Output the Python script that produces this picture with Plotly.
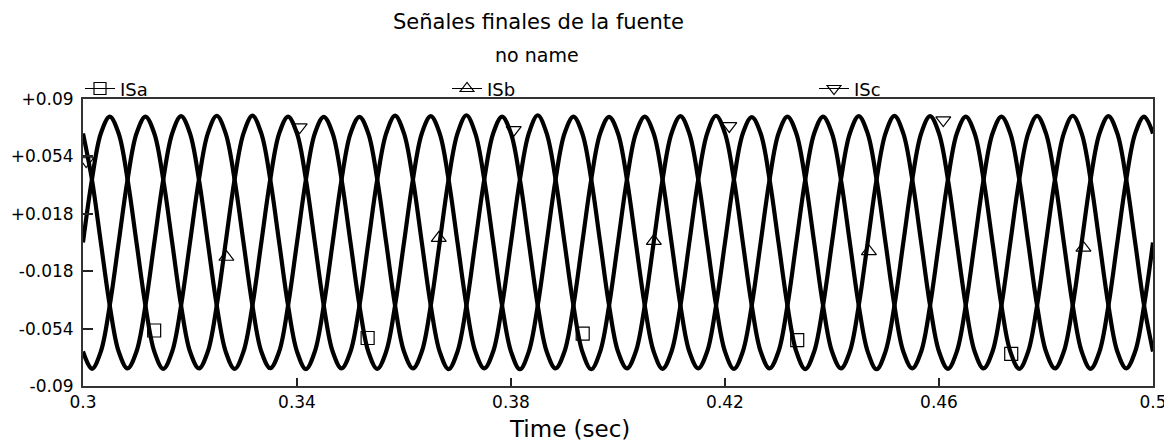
import plotly.graph_objects as go

# ---------------- data ----------------
time_s = [
    0.300, 0.30167, 0.30333, 0.305, 0.30667, 0.30833, 0.310, 0.31167, 0.31333, 0.315, 0.31667, 0.31833,
    0.320, 0.32167, 0.32333, 0.325, 0.32667, 0.32833, 0.330, 0.33167, 0.33333, 0.335, 0.33667, 0.33833,
    0.340, 0.34167, 0.34333, 0.345, 0.34667, 0.34833, 0.350, 0.35167, 0.35333, 0.355, 0.35667, 0.35833,
    0.360, 0.36167, 0.36333, 0.365, 0.36667, 0.36833, 0.370, 0.37167, 0.37333, 0.375, 0.37667, 0.37833,
    0.380, 0.38167, 0.38333, 0.385, 0.38667, 0.38833, 0.390, 0.39167, 0.39333, 0.395, 0.39667, 0.39833,
    0.400, 0.40167, 0.40333, 0.405, 0.40667, 0.40833, 0.410, 0.41167, 0.41333, 0.415, 0.41667, 0.41833,
    0.420, 0.42167, 0.42333, 0.425, 0.42667, 0.42833, 0.430, 0.43167, 0.43333, 0.435, 0.43667, 0.43833,
    0.440, 0.44167, 0.44333, 0.445, 0.44667, 0.44833, 0.450, 0.45167, 0.45333, 0.455, 0.45667, 0.45833,
    0.460, 0.46167, 0.46333, 0.465, 0.46667, 0.46833, 0.470, 0.47167, 0.47333, 0.475, 0.47667, 0.47833,
    0.480, 0.48167, 0.48333, 0.485, 0.48667, 0.48833, 0.490, 0.49167, 0.49333, 0.495, 0.49667, 0.49833,
    0.500,
]

isa = [
    0.0, 0.0395, 0.0684, 0.0790, 0.0684, 0.0395, 0.0, -0.0395, -0.0684, -0.0792, -0.0684, -0.0395,
    0.0, 0.0395, 0.0684, 0.0795, 0.0684, 0.0395, 0.0, -0.0395, -0.0684, -0.0788, -0.0684, -0.0395,
    0.0, 0.0395, 0.0684, 0.0788, 0.0684, 0.0395, 0.0, -0.0395, -0.0684, -0.0793, -0.0684, -0.0395,
    0.0, 0.0395, 0.0684, 0.0792, 0.0684, 0.0395, 0.0, -0.0395, -0.0684, -0.0790, -0.0684, -0.0395,
    0.0, 0.0395, 0.0684, 0.0798, 0.0684, 0.0395, 0.0, -0.0395, -0.0684, -0.0795, -0.0684, -0.0395,
    0.0, 0.0395, 0.0684, 0.0790, 0.0684, 0.0395, 0.0, -0.0395, -0.0684, -0.0790, -0.0684, -0.0395,
    0.0, 0.0395, 0.0684, 0.0786, 0.0684, 0.0395, 0.0, -0.0395, -0.0684, -0.0794, -0.0684, -0.0395,
    0.0, 0.0395, 0.0684, 0.0793, 0.0684, 0.0395, 0.0, -0.0395, -0.0684, -0.0790, -0.0684, -0.0395,
    0.0, 0.0395, 0.0684, 0.0790, 0.0684, 0.0395, 0.0, -0.0395, -0.0684, -0.0792, -0.0684, -0.0395,
    0.0, 0.0395, 0.0684, 0.0795, 0.0684, 0.0395, 0.0, -0.0395, -0.0684, -0.0790, -0.0684, -0.0395,
    0.0,
]

isb = [
    -0.0684, -0.0792, -0.0684, -0.0395, 0.0, 0.0395, 0.0684, 0.0790, 0.0684, 0.0395, 0.0, -0.0395,
    -0.0684, -0.0790, -0.0684, -0.0395, 0.0, 0.0395, 0.0684, 0.0796, 0.0684, 0.0395, 0.0, -0.0395,
    -0.0684, -0.0794, -0.0684, -0.0395, 0.0, 0.0395, 0.0684, 0.0788, 0.0684, 0.0395, 0.0, -0.0395,
    -0.0684, -0.0790, -0.0684, -0.0395, 0.0, 0.0395, 0.0684, 0.0798, 0.0684, 0.0395, 0.0, -0.0395,
    -0.0684, -0.0795, -0.0684, -0.0395, 0.0, 0.0395, 0.0684, 0.0790, 0.0684, 0.0395, 0.0, -0.0395,
    -0.0684, -0.0790, -0.0684, -0.0395, 0.0, 0.0395, 0.0684, 0.0792, 0.0684, 0.0395, 0.0, -0.0395,
    -0.0684, -0.0793, -0.0684, -0.0395, 0.0, 0.0395, 0.0684, 0.0790, 0.0684, 0.0395, 0.0, -0.0395,
    -0.0684, -0.0790, -0.0684, -0.0395, 0.0, 0.0395, 0.0684, 0.0794, 0.0684, 0.0395, 0.0, -0.0395,
    -0.0684, -0.0792, -0.0684, -0.0395, 0.0, 0.0395, 0.0684, 0.0790, 0.0684, 0.0395, 0.0, -0.0395,
    -0.0684, -0.0790, -0.0684, -0.0395, 0.0, 0.0395, 0.0684, 0.0793, 0.0684, 0.0395, 0.0, -0.0395,
    -0.0684,
]

isc = [
    0.0684, 0.0395, 0.0, -0.0395, -0.0684, -0.0790, -0.0684, -0.0395, 0.0, 0.0395, 0.0684, 0.0792,
    0.0684, 0.0395, 0.0, -0.0395, -0.0684, -0.0793, -0.0684, -0.0395, 0.0, 0.0395, 0.0684, 0.0790,
    0.0684, 0.0395, 0.0, -0.0395, -0.0684, -0.0790, -0.0684, -0.0395, 0.0, 0.0395, 0.0684, 0.0796,
    0.0684, 0.0395, 0.0, -0.0395, -0.0684, -0.0794, -0.0684, -0.0395, 0.0, 0.0395, 0.0684, 0.0790,
    0.0684, 0.0395, 0.0, -0.0395, -0.0684, -0.0790, -0.0684, -0.0395, 0.0, 0.0395, 0.0684, 0.0788,
    0.0684, 0.0395, 0.0, -0.0395, -0.0684, -0.0792, -0.0684, -0.0395, 0.0, 0.0395, 0.0684, 0.0795,
    0.0684, 0.0395, 0.0, -0.0395, -0.0684, -0.0790, -0.0684, -0.0395, 0.0, 0.0395, 0.0684, 0.0790,
    0.0684, 0.0395, 0.0, -0.0395, -0.0684, -0.0795, -0.0684, -0.0395, 0.0, 0.0395, 0.0684, 0.0792,
    0.0684, 0.0395, 0.0, -0.0395, -0.0684, -0.0790, -0.0684, -0.0395, 0.0, 0.0395, 0.0684, 0.0794,
    0.0684, 0.0395, 0.0, -0.0395, -0.0684, -0.0792, -0.0684, -0.0395, 0.0, 0.0395, 0.0684, 0.0790,
    0.0684,
]

# marker positions drawn along each trace
isa_mark_t = [0.3133, 0.3532, 0.3934, 0.4335, 0.4735]
isa_mark_v = [-0.0552, -0.0599, -0.0571, -0.0612, -0.0699]
isb_mark_t = [0.3268, 0.3665, 0.4067, 0.4469, 0.4870]
isb_mark_v = [-0.0091, 0.0028, 0.0009, -0.0056, -0.0034]
isc_mark_t = [0.3006, 0.3405, 0.3805, 0.4208, 0.4608]
isc_mark_v = [0.0511, 0.0724, 0.0706, 0.0731, 0.0768]

series_names = ["ISa", "ISb", "ISc"]
series_symbols = ["square-open", "triangle-up-open", "triangle-down-open"]

x_tickvals = [0.3, 0.34, 0.38, 0.42, 0.46, 0.5]
x_ticktext = ["0.3", "0.34", "0.38", "0.42", "0.46", "0.5"]
y_tickvals = [-0.09, -0.054, -0.018, 0.018, 0.054, 0.09]
y_ticktext = ["-0.09", "-0.054", "-0.018", "+0.018", "+0.054", "+0.09"]

title_text = "Señales finales de la fuente"
subtitle_text = "no name"
xaxis_title = "Time (sec)"

# ---------------- figure ----------------
FONT = "DejaVu Sans"
fig = go.Figure()

for vals in (isa, isb, isc):
    fig.add_trace(go.Scatter(
        x=time_s, y=vals, mode="lines",
        line=dict(color="black", width=4.2, shape="spline"),
        showlegend=False, hoverinfo="skip",
    ))

for mt, mv, sym in ((isa_mark_t, isa_mark_v, series_symbols[0]),
                    (isb_mark_t, isb_mark_v, series_symbols[1]),
                    (isc_mark_t, isc_mark_v, series_symbols[2])):
    fig.add_trace(go.Scatter(
        x=mt, y=mv, mode="markers",
        marker=dict(symbol=sym, size=13, color="black", line=dict(width=1.2, color="black")),
        showlegend=False, hoverinfo="skip",
    ))

for name, sym in zip(series_names, series_symbols):
    fig.add_trace(go.Scatter(
        x=[None], y=[None], mode="lines+markers", name=name,
        line=dict(color="black", width=1.2),
        marker=dict(symbol=sym, size=12, color="black", line=dict(width=1.2, color="black")),
    ))

# the page shows the figure with an 8 px body offset, so the figure is 8 px smaller
fig.update_layout(
    width=1164, height=433,
    margin=dict(l=75, r=19, t=91, b=55, autoexpand=False),
    paper_bgcolor="white", plot_bgcolor="white",
    font=dict(family=FONT, color="black", size=17),
    showlegend=True,
    legend=dict(
        orientation="h", x=-0.0028, xanchor="left", y=1.100, yanchor="top",
        entrywidth=322, entrywidthmode="pixels",
        font=dict(family=FONT, size=18, color="black"),
        bgcolor="rgba(0,0,0,0)", borderwidth=0, tracegroupgap=0,
    ),
    xaxis=dict(
        range=[0.3, 0.5], tickvals=x_tickvals, ticktext=x_ticktext,
        ticks="inside", ticklen=8, tickwidth=1.5, tickcolor="#222",
        showline=True, linecolor="#333", linewidth=2, mirror=True,
        showgrid=False, zeroline=False, automargin=False,
        tickfont=dict(family=FONT, size=17, color="black"),
    ),
    yaxis=dict(
        range=[-0.09, 0.09], tickvals=y_tickvals, ticktext=y_ticktext,
        ticks="inside", ticklen=10, tickwidth=1.5, tickcolor="#222",
        showline=True, linecolor="#333", linewidth=2, mirror=True,
        showgrid=False, zeroline=False, automargin=False,
        tickfont=dict(family=FONT, size=17, color="black"),
        ticklabelstandoff=4,
    ),
    annotations=[
        dict(text=title_text, xref="paper", yref="paper", x=0.4256, y=1.268,
             xanchor="center", yanchor="middle", showarrow=False,
             font=dict(family=FONT, size=21, color="black")),
        dict(text=subtitle_text, xref="paper", yref="paper", x=0.4246, y=1.153,
             xanchor="center", yanchor="middle", showarrow=False,
             font=dict(family=FONT, size=19, color="black")),
        dict(text=xaxis_title, xref="paper", yref="paper", x=0.4546, y=-0.150,
             xanchor="center", yanchor="middle", showarrow=False,
             font=dict(family=FONT, size=23, color="black")),
    ],
)

fig.write_html("out.html")
